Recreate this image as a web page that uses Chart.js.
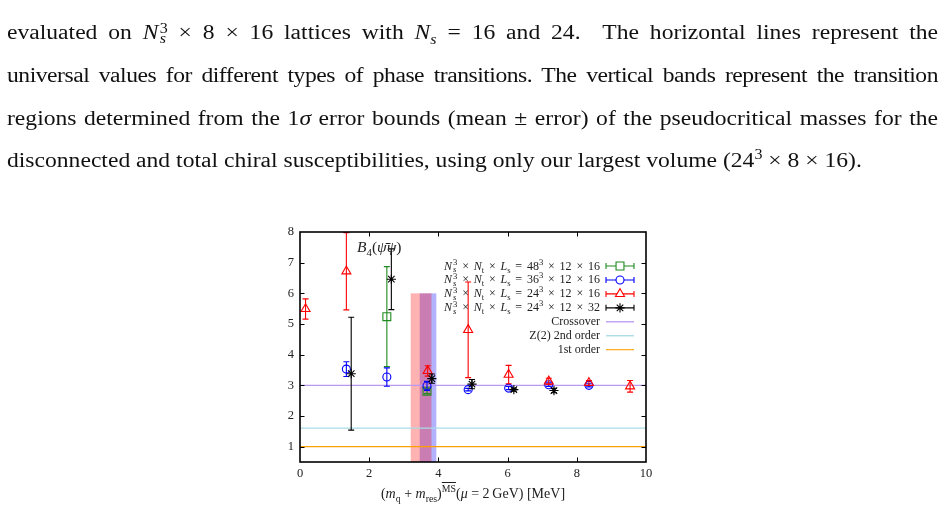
<!DOCTYPE html>
<html><head><meta charset="utf-8">
<script src="https://cdn.jsdelivr.net/npm/chart.js@4.4.1/dist/chart.umd.min.js"></script>
<style>
html,body{margin:0;padding:0;background:#fff;width:944px;height:507px;overflow:hidden;}
#wrap{position:relative;width:944px;height:507px;}
#c{position:absolute;left:0;top:0;z-index:0;}
.para{position:absolute;left:7px;width:789px;transform:scaleX(1.18);transform-origin:0 0;font-family:"Liberation Serif",serif;font-size:20px;line-height:24px;height:24px;color:#111;text-align:justify;text-align-last:justify;z-index:1;}
.para sup,.para sub{line-height:0;}
.last{text-align-last:left;}
.ss{display:inline-block;vertical-align:-0.32em;line-height:0.78em;font-size:0.68em;text-align:left;margin-left:1px;}
.ss span{display:block;}
.ss span.b{font-style:italic;}
.lg{position:absolute;right:344px;font-family:"Liberation Serif",serif;font-size:12px;line-height:14px;height:14px;color:#222;white-space:nowrap;z-index:1;}
.lg.m{word-spacing:1.8px;}
.lg .ss{font-size:0.72em;vertical-align:-0.3em;line-height:0.8em;}
.lg sub,.lg sup{font-size:0.72em;line-height:0;}
.lab{position:absolute;font-family:"Liberation Serif",serif;color:#222;white-space:nowrap;z-index:1;}
.lab sub,.lab sup{font-size:0.7em;line-height:0;}
.ov{text-decoration:overline;}
</style>
</head><body><div id="wrap">
<canvas id="c" width="944" height="507"></canvas>
<div class="para" style="top:20px">evaluated on <i>N</i><span class="ss"><span>3</span><span class="b">s</span></span> &times; 8 &times; 16 lattices with <i>N<sub style="font-size:0.68em">s</sub></i> = 16 and 24. &nbsp;The horizontal lines represent the</div>
<div class="para" style="top:63px;letter-spacing:-0.4px;">universal values for different types of phase transitions. The vertical bands represent the transition</div>
<div class="para" style="top:106px">regions determined from the 1<i>&sigma;</i> error bounds (mean &plusmn; error) of the pseudocritical masses for the</div>
<div class="para last" style="top:148px">disconnected and total chiral susceptibilities, using only our largest volume (24<sup style="font-size:0.68em">3</sup> &times; 8 &times; 16).</div>

<div class="lab" style="left:357px;top:238px;font-size:15.5px;"><i>B</i><sub>4</sub>(<i>ψ̄ψ</i>)</div>
<div id="legendText"></div>
<div class="lab" style="left:473px;top:486px;font-size:14px;transform:translateX(-50%);">(<i>m</i><sub>q</sub> + <i>m</i><sub>res</sub>)<sup class="ov">MS</sup>(<i>μ</i> = 2&thinsp;GeV) [MeV]</div>
</div>
<script>
// ---- data ----
const xTicks = [0, 2, 4, 6, 8, 10];
const yTicks = [1, 2, 3, 4, 5, 6, 7, 8];

// Ns^3 x Nt x Ls = 48^3 x 12 x 16
const mass48 = [2.51, 3.67];
const b4_48  = [5.24, 2.81];
const err48  = [1.63, 0.08];
// 36^3 x 12 x 16
const mass36 = [1.34, 2.51, 3.67, 4.86, 6.03, 7.19, 8.35];
const b4_36  = [3.53, 3.27, 2.98, 2.86, 2.91, 3.02, 3.00];
const err36  = [0.24, 0.30, 0.15, 0.04, 0.05, 0.06, 0.05];
// 24^3 x 12 x 16
const mass24 = [0.16, 1.34, 3.69, 4.86, 6.03, 7.19, 8.35, 9.54];
const b4_24  = [5.49, 6.72, 3.47, 4.81, 3.35, 3.13, 3.08, 2.97];
const err24  = [0.33, 1.26, 0.17, 1.56, 0.30, 0.10, 0.08, 0.19];
// 24^3 x 12 x 32
const mass24b = [1.48, 2.64, 3.81, 4.97, 6.18, 7.34];
const b4_24b  = [3.38, 6.46, 3.22, 3.04, 2.86, 2.83];
const err24b  = [1.84, 0.99, 0.15, 0.15, 0.05, 0.07];

// universal values
const crossover = 3.0;
const z2 = 1.604;
const firstOrder = 1.0;
const lineX = [0, 10];

// transition bands (mean +- error), height
const bandDisc  = [3.20, 3.80];
const bandTotal = [3.46, 3.94];
const bandTop = 6.0;

const NsNtLs = '<i>N</i><span class="ss"><span>3</span><span class="b">s</span></span> &times; <i>N</i><sub>t</sub> &times; <i>L</i><sub>s</sub> = ';
const legendLabels = [
  NsNtLs + '48<sup>3</sup> &times; 12 &times; 16',
  NsNtLs + '36<sup>3</sup> &times; 12 &times; 16',
  NsNtLs + '24<sup>3</sup> &times; 12 &times; 16',
  NsNtLs + '24<sup>3</sup> &times; 12 &times; 32',
  'Crossover', 'Z(2) 2nd order', '1st order'
];

const C_GREEN = '#1f8a1f', C_BLUE = '#0000ff', C_RED = '#ff0000', C_BLACK = '#000000';
const C_CROSS = '#b898f0', C_Z2 = '#a8dbe6', C_FIRST = '#ffa000';

const LEG_Y0 = 34, LEG_DY = 13.95;

// legend text (HTML)
const lt = document.getElementById('legendText');
legendLabels.forEach((t, i) => {
  const d = document.createElement('div');
  d.className = 'lg' + (i < 4 ? ' m' : '');
  d.style.top = (232 + LEG_Y0 + i * LEG_DY - 7.5) + 'px';
  d.innerHTML = t;
  lt.appendChild(d);
});

function pts(xs, ys, es) { return xs.map((x, i) => ({x: x, y: ys[i], e: es ? es[i] : 0})); }

const seriesStyle = [
  {label: legendLabels[0], color: C_GREEN, style: 'rect', r: 5.6},
  {label: legendLabels[1], color: C_BLUE, style: 'circle', r: 4.0},
  {label: legendLabels[2], color: C_RED, style: 'triangle', r: 5.2},
  {label: legendLabels[3], color: C_BLACK, style: 'star', r: 4.6}
];
const seriesData = [pts(mass48, b4_48, err48), pts(mass36, b4_36, err36), pts(mass24, b4_24, err24), pts(mass24b, b4_24b, err24b)];

const datasets = [
  {type: 'line', label: 'Crossover', data: pts(lineX, lineX.map(() => crossover)), borderColor: C_CROSS, borderWidth: 1.3, pointRadius: 0, order: 10},
  {type: 'line', label: 'Z2', data: pts(lineX, lineX.map(() => z2)), borderColor: C_Z2, borderWidth: 1.3, pointRadius: 0, order: 10},
  {type: 'line', label: '1st', data: pts(lineX, lineX.map(() => firstOrder)), borderColor: C_FIRST, borderWidth: 1.1, pointRadius: 0, order: 10}
];
seriesStyle.forEach((s, k) => {
  datasets.push({type: 'scatter', label: s.label, data: seriesData[k], pointStyle: s.style, pointRadius: s.r,
    borderColor: s.color, backgroundColor: 'rgba(0,0,0,0)', pointBorderWidth: 1.1, borderWidth: 1.1, errColor: s.color, order: 4 - k});
});

const bandsPlugin = {
  id: 'bands',
  beforeDatasetsDraw(chart) {
    const {ctx, chartArea: a, scales: {x, y}} = chart;
    ctx.save();
    ctx.beginPath(); ctx.rect(a.left, a.top, a.right - a.left, a.bottom - a.top); ctx.clip();
    const yt = y.getPixelForValue(bandTop), yb = a.bottom;
    ctx.fillStyle = 'rgba(0,0,255,0.30)';
    let x0 = x.getPixelForValue(bandTotal[0]), x1 = x.getPixelForValue(bandTotal[1]);
    ctx.fillRect(x0, yt, x1 - x0, yb - yt);
    ctx.fillStyle = 'rgba(255,0,0,0.30)';
    x0 = x.getPixelForValue(bandDisc[0]); x1 = x.getPixelForValue(bandDisc[1]);
    ctx.fillRect(x0, yt, x1 - x0, yb - yt);
    ctx.restore();
  }
};

const errPlugin = {
  id: 'errbars',
  beforeDatasetDraw(chart, args) {
    const ds = chart.data.datasets[args.index];
    if (!ds.errColor) return;
    const {ctx, chartArea: a, scales: {x, y}} = chart;
    ctx.save();
    ctx.beginPath(); ctx.rect(a.left, a.top, a.right - a.left, a.bottom - a.top); ctx.clip();
    ctx.strokeStyle = ds.errColor; ctx.lineWidth = 1.1;
    ds.data.forEach(p => {
      const px = x.getPixelForValue(p.x);
      const yh = y.getPixelForValue(p.y + p.e), yl = y.getPixelForValue(p.y - p.e);
      ctx.beginPath();
      ctx.moveTo(px, yh); ctx.lineTo(px, yl);
      ctx.moveTo(px - 3, yh); ctx.lineTo(px + 3, yh);
      ctx.moveTo(px - 3, yl); ctx.lineTo(px + 3, yl);
      ctx.stroke();
    });
    ctx.restore();
  }
};

const framePlugin = {
  id: 'frame',
  afterDraw(chart) {
    const {ctx, chartArea: a, scales: {x, y}} = chart;
    ctx.save();
    ctx.strokeStyle = '#000'; ctx.lineWidth = 1;
    const L = 4.5;
    ctx.beginPath();
    xTicks.forEach(v => { const px = Math.round(x.getPixelForValue(v)) + 0.5;
      if (v > 0 && v < 10) { ctx.moveTo(px, a.bottom); ctx.lineTo(px, a.bottom - L); ctx.moveTo(px, a.top); ctx.lineTo(px, a.top + L); } });
    yTicks.forEach(v => { const py = Math.round(y.getPixelForValue(v)) + 0.5;
      if (v < 8) { ctx.moveTo(a.left, py); ctx.lineTo(a.left + L, py); ctx.moveTo(a.right, py); ctx.lineTo(a.right - L, py); } });
    ctx.stroke();
    ctx.lineWidth = 1.6;
    ctx.strokeRect(a.left, a.top, a.right - a.left, a.bottom - a.top);
    // legend samples
    const xs0 = a.right - 40, xs1 = a.right - 12, xm = (xs0 + xs1) / 2;
    seriesStyle.forEach((s, i) => {
      const yy = a.top + LEG_Y0 + i * LEG_DY;
      ctx.strokeStyle = s.color; ctx.lineWidth = 1.1;
      ctx.beginPath();
      ctx.moveTo(xs0, yy); ctx.lineTo(xs1, yy);
      ctx.moveTo(xs0, yy - 3); ctx.lineTo(xs0, yy + 3);
      ctx.moveTo(xs1, yy - 3); ctx.lineTo(xs1, yy + 3);
      ctx.stroke();
      ctx.fillStyle = '#ffffff';
      Chart.helpers.drawPoint(ctx, {pointStyle: s.style, radius: s.r, borderWidth: 1.1, rotation: 0}, xm, yy);
    });
    [[C_CROSS, 1.3], [C_Z2, 1.3], [C_FIRST, 1.1]].forEach((c, j) => {
      const yy = a.top + LEG_Y0 + (4 + j) * LEG_DY;
      ctx.strokeStyle = c[0]; ctx.lineWidth = c[1];
      ctx.beginPath(); ctx.moveTo(xs0, yy); ctx.lineTo(xs1, yy); ctx.stroke();
    });
    ctx.restore();
  }
};

const tickFont = {family: '"Liberation Serif", serif', size: 12.5};
new Chart(document.getElementById('c'), {
  data: {datasets: datasets},
  options: {
    responsive: false, animation: false, devicePixelRatio: 1,
    layout: {padding: {left: 270, right: 298, top: 232, bottom: 15}},
    plugins: {legend: {display: false}, tooltip: {enabled: false}},
    scales: {
      x: {type: 'linear', min: 0, max: 10,
        grid: {display: false}, border: {display: false},
        ticks: {font: tickFont, color: '#222', padding: -4},
        afterBuildTicks: s => { s.ticks = xTicks.map(v => ({value: v})); },
        afterFit: s => { s.height = 30; }},
      y: {type: 'linear', min: 0.5, max: 8,
        grid: {display: false}, border: {display: false},
        ticks: {font: tickFont, color: '#222', padding: -2},
        afterBuildTicks: s => { s.ticks = yTicks.map(v => ({value: v})); },
        afterFit: s => { s.width = 30; }}
    }
  },
  plugins: [bandsPlugin, errPlugin, framePlugin]
});
</script>
</body></html>
